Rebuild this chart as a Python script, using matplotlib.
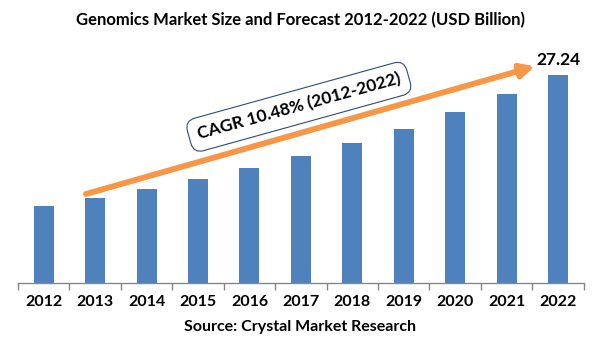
import matplotlib
matplotlib.use("Agg")
import matplotlib.pyplot as plt
import numpy as np

plt.rcParams['font.family'] = ['Lato', 'DejaVu Sans']
plt.rcParams['font.weight'] = 'bold'

# Data (USD Billion)
years = ['2012', '2013', '2014', '2015', '2016', '2017',
         '2018', '2019', '2020', '2021', '2022']
market_size = [10.09, 11.13, 12.31, 13.62, 15.06, 16.64,
               18.34, 20.17, 22.40, 24.76, 27.24]
last_label = '27.24'
cagr_text = 'CAGR 10.48% (2012-2022)'

bar_color = '#4F81BD'
arrow_color = '#F79646'

fig = plt.figure(figsize=(6, 3.6), dpi=100)
ax = fig.add_axes([0.03, 0.214, 0.943, 0.678])

x = np.arange(len(years))
ax.bar(x, market_size, width=0.39, color=bar_color, zorder=2)

ax.set_xlim(-0.5, len(years) - 0.5)
ax.set_ylim(0, 32)
ax.set_yticks([])
for side in ('left', 'right', 'top'):
    ax.spines[side].set_visible(False)
ax.spines['bottom'].set_color('#868686')
ax.spines['bottom'].set_linewidth(1)

# category labels, tick marks between categories
ax.set_xticks(x)
ax.set_xticklabels(years, fontsize=11.5, fontweight='bold')
ax.tick_params(axis='x', which='major', length=0, pad=9)
ax.set_xticks(np.arange(-0.5, len(years)), minor=True)
ax.tick_params(axis='x', which='minor', length=5, color='#868686', width=1)

# value label on last bar
ax.text(x[-1], market_size[-1] + 0.9, last_label, ha='center', va='bottom',
        fontsize=12.5, fontweight='bold')

# growth arrow
ax.annotate('', xy=(9.55, 28.4), xytext=(0.82, 11.66),
            arrowprops=dict(arrowstyle='-|>,head_length=0.8,head_width=0.4',
                            color=arrow_color, lw=4.2, shrinkA=0, shrinkB=0),
            zorder=3)

# CAGR box
ax.text(4.96, 23.1, cagr_text, ha='center', va='center', rotation=15.5,
        rotation_mode='anchor', fontsize=12.5, fontweight='bold', zorder=4,
        bbox=dict(boxstyle='round,pad=0.5,rounding_size=0.6', fc='white',
                  ec='#2F4A7A', lw=0.8))

fig.text(0.5, 0.945, 'Genomics Market Size and Forecast 2012-2022 (USD Billion)',
         ha='center', va='center', fontsize=12, fontweight='bold')
fig.text(0.5, 0.092, 'Source: Crystal Market Research', ha='center', va='center',
         fontsize=11.5, fontweight='bold')

fig.savefig('out.png', dpi=100)
